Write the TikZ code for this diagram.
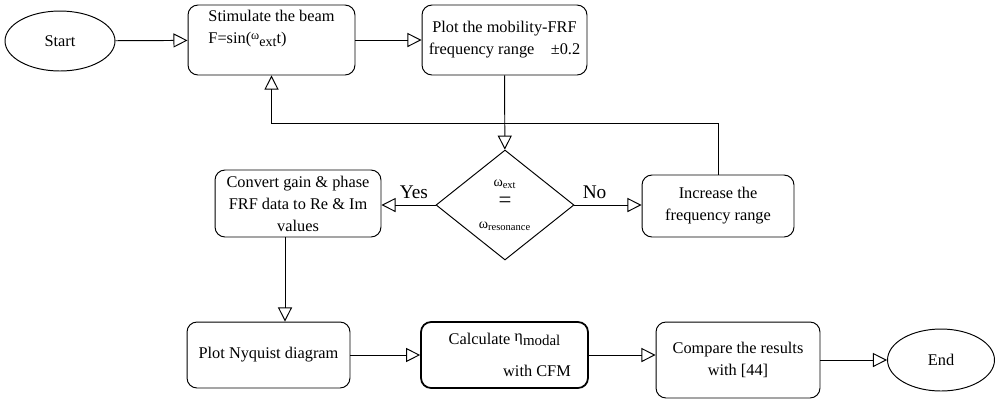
\documentclass[tikz,border=0pt]{standalone}
\usepackage{fontspec}
\setmainfont{Liberation Serif}
\usepackage{tikz}
\usetikzlibrary{shapes.geometric, arrows.meta}
\tikzstyle{arrow} = [line width=0.55pt,-{Triangle[open,length=8pt,width=8pt]}]
\tikzstyle{box} = [draw, rounded corners=0.2cm, line width=0.55pt, align=center, inner sep=1pt, font=\fontsize{9.3}{12.5}\selectfont]
\tikzstyle{oval} = [draw, ellipse, line width=0.55pt, font=\fontsize{9.3}{12.5}\selectfont]
\tikzstyle{decision} = [draw, diamond, line width=0.55pt, align=center, inner sep=0pt, minimum width=2.76cm, minimum height=2.2cm, font=\fontsize{8}{9}\selectfont]
\tikzstyle{answer} = [font=\fontsize{11}{12}\selectfont, above]

\begin{document}
\begin{tikzpicture}[x=0.02cm,y=-0.02cm]
	\useasboundingbox (0,0) rectangle (997,407);
	% first row
	\node[oval, minimum width=2.2cm, minimum height=1.2cm] (start) at (60,41) {Start};
	\node[box, align=left, minimum width=3.34cm, minimum height=1.4cm] (stim) at (271.5,40)
		{Stimulate the beam\\F=sin(\raisebox{0.6ex}{\fontsize{7}{7}\selectfont ω}\raisebox{-0.3ex}{\fontsize{8}{8}\selectfont ext}t)\\[2pt]~};
	\node[box, minimum width=3.3cm, minimum height=1.4cm] (mob) at (504.5,40)
		{Plot the mobility-FRF\\frequency range\quad ±0.2};
	% decision row
	\node[decision] (dec) at (505,205)
		{ω\textsubscript{ext}\\[3pt]{\fontsize{13}{9}\selectfont =}\\[3pt]ω\textsubscript{resonance}};
	\node[box, minimum width=3.32cm, minimum height=1.34cm] (conv) at (298,203.5)
		{Convert gain \& phase\\FRF data to Re \& Im\\values};
	\node[box, minimum width=3.04cm, minimum height=1.24cm] (inc) at (718,206)
		{Increase the\\frequency range};
	% last row
	\node[box, minimum width=3.26cm, minimum height=1.32cm] (nyq) at (268.5,355)
		{Plot Nyquist diagram};
	\node[box, line width=1pt, minimum width=3.34cm, minimum height=1.32cm] (cfm) at (504.5,355)
		{Calculate \raisebox{0.4ex}{η}\raisebox{-0.2ex}{\fontsize{8.5}{9}\selectfont modal}\\[6pt]\hspace*{1.3cm}with CFM};
	\node[box, minimum width=3.28cm, minimum height=1.52cm] (cmp) at (738,360)
		{Compare the results\\with [44]};
	\node[oval, minimum width=2.14cm, minimum height=1.24cm] (end) at (941,360) {End};

	\draw[arrow] (start) -- (stim);
	\draw[arrow] (stim) -- (mob);
	\draw[arrow] (mob) -- (dec);
	\draw[arrow] (dec.west) -- node[answer, pos=0.4] {Yes} (dec.west -| conv.east);
	\draw[arrow] (dec.east) -- node[answer, pos=0.3] {No} (dec.east -| inc.west);
	\draw[arrow] (inc.north) -- ++(0,-51) -| (stim.south);
	\draw[arrow] ([xshift=-0.26cm]conv.south) -- ([xshift=-0.26cm]conv.south |- nyq.north);
	\draw[arrow] (nyq) -- (cfm);
	\draw[arrow] (cfm.east) -- (cfm.east -| cmp.west);
	\draw[arrow] (cmp) -- (end);
\end{tikzpicture}
\end{document}
